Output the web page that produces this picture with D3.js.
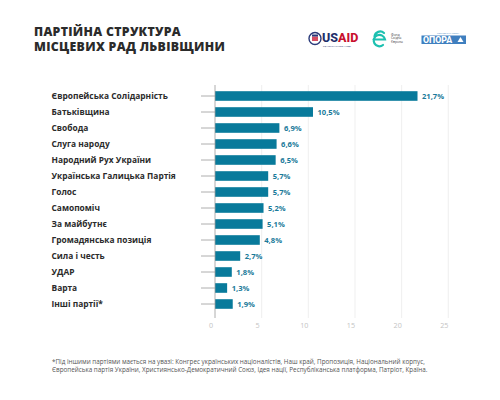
<!DOCTYPE html>
<html>
<head>
<meta charset="utf-8">
<script src="https://cdn.jsdelivr.net/npm/d3@7"></script>
<style>
    body { margin: 0; background: #fff; }
    svg { display: block; font-family: "Open Sans", "DejaVu Sans", sans-serif; }
</style>
</head>
<body>
<div id="chart"></div>
<script>
    "use strict";
    var parties = ["Європейська Солідарність", "Батьківщина", "Свобода", "Слуга народу",
            "Народний Рух України", "Українська Галицька Партія", "Голос", "Самопоміч",
            "За майбутнє", "Громадянська позиція", "Сила і честь", "УДАР", "Варта", "Інші партії*"],
        shares = [21.7, 10.5, 6.9, 6.6, 6.5, 5.7, 5.7, 5.2, 5.1, 4.8, 2.7, 1.8, 1.3, 1.9],
        xTicks = [0, 5, 10, 15, 20, 25],
        titleLines = ["ПАРТІЙНА СТРУКТУРА", "МІСЦЕВИХ РАД ЛЬВІВЩИНИ"],
        footnote = ["*Під іншими партіями мається на увазі: Конгрес українських націоналістів, Наш край, Пропозиція, Національний корпус,",
            "Європейська партія України, Християнсько-Демократичний Союз, Ідея нації, Республіканська платформа, Патріот, Країна."];

    var W = 500, H = 400,
        barColor = "#087a9b",
        fmt = function (v) { return String(v.toFixed(1)).replace(".", ",") + "%"; };

    var svg = d3.select("#chart").append("svg").attr("width", W).attr("height", H);

    // title
    svg.append("g").selectAll("text").data(titleLines).enter().append("text")
        .attr("x", 34).attr("y", function (d, i) { return 35.5 + i * 15.5; })
        .attr("font-size", 12.3).attr("font-weight", 800).attr("fill", "#2b2b2b")
        .attr("letter-spacing", 0.3)
        .text(function (d) { return d; });

    // logos (simplified)
    var logos = svg.append("g");
    logos.append("circle").attr("cx", 315).attr("cy", 38.5).attr("r", 6)
        .attr("fill", "#fff").attr("stroke", "#2a3a7a").attr("stroke-width", 1.4);
    logos.append("rect").attr("x", 312).attr("y", 36.5).attr("width", 6).attr("height", 4.5)
        .attr("fill", "#c8102e").attr("opacity", 0.75);
    logos.append("rect").attr("x", 312).attr("y", 34.5).attr("width", 6).attr("height", 2)
        .attr("fill", "#2a3a7a");
    logos.append("text").attr("x", 322).attr("y", 42).attr("font-size", 12.5).attr("font-weight", 800)
        .attr("font-family", "Roboto, sans-serif")
        .html('<tspan fill="#1f2f6b">US</tspan><tspan fill="#c8102e">AID</tspan>');
    logos.append("text").attr("x", 323).attr("y", 46.5).attr("font-size", 1.8).attr("fill", "#1f2f6b")
        .text("ВІД АМЕРИКАНСЬКОГО НАРОДУ");
    logos.append("path")
        .attr("d", "M373.5,39.5 L385,39.5 A5.7,5.7 0 1 0 383,45 M374.5,36.5 A5.7,5.7 0 0 1 384,33")
        .attr("fill", "none").attr("stroke", "#1cc0b0").attr("stroke-width", 2.2).attr("stroke-linecap", "round");
    logos.append("g").selectAll("text").data(["Фонд", "Східна", "Європа"]).enter().append("text")
        .attr("x", 391).attr("y", function (d, i) { return 35.5 + i * 3.8; })
        .attr("font-size", 3.3).attr("fill", "#3a3a3a").text(function (d) { return d; });
    logos.append("rect").attr("x", 421.5).attr("y", 35.5).attr("width", 44.5).attr("height", 8.5)
        .attr("fill", "#3f7fbf");
    logos.append("text").attr("x", 423).attr("y", 42.8).attr("font-size", 8.8).attr("font-weight", 800)
        .attr("fill", "#fff").attr("font-family", "Roboto, sans-serif").text("ОПОРА");
    logos.append("path").attr("d", "M457.5,42 L460.5,37 L463.5,42 Z").attr("fill", "#fff");
    logos.append("text").attr("x", 437).attr("y", 34).attr("font-size", 1.8).attr("fill", "#3f7fbf")
        .text("ГРОМАДЯНСЬКА МЕРЕЖА");

    // scales
    var x = d3.scaleLinear().domain([0, 25]).range([215, 448.3]),
        y = d3.scaleBand().domain(parties).range([88, 312]).paddingInner(0.4).paddingOuter(0.2);

    // grid
    var grid = svg.append("g");
    grid.selectAll("line").data(xTicks.slice(1)).enter().append("line")
        .attr("x1", function (d) { return x(d); }).attr("x2", function (d) { return x(d); })
        .attr("y1", 85).attr("y2", 318)
        .attr("stroke", "#e8e8e8").attr("stroke-width", 0.7);

    // x axis tick labels
    svg.append("g").selectAll("text").data(xTicks).enter().append("text")
        .attr("x", function (d) { return x(d) - 4; }).attr("y", 328)
        .attr("text-anchor", "middle").attr("font-size", 7.2).attr("fill", "#c4c4c4")
        .text(function (d) { return d; });

    // y axis via d3.axisLeft
    var yAxis = svg.append("g").attr("transform", "translate(215,0)")
        .call(d3.axisLeft(y).tickSize(14).tickFormat(""));
    yAxis.select(".domain").remove();
    yAxis.selectAll(".tick line").attr("stroke", "#9a9a9a").attr("stroke-width", 0.8);

    svg.append("g").selectAll("text").data(parties).enter().append("text")
        .attr("x", 51.5).attr("y", function (d) { return y(d) + y.bandwidth() / 2 + 3; })
        .attr("font-size", 8.4).attr("font-weight", 700).attr("fill", "#2b2b2b")
        .text(function (d) { return d; });

    // bars
    svg.append("g").selectAll("rect").data(parties).enter().append("rect")
        .attr("x", x(0)).attr("y", function (d) { return y(d); })
        .attr("width", function (d, i) { return x(shares[i]) - x(0); })
        .attr("height", y.bandwidth())
        .attr("fill", barColor);

    svg.append("g").selectAll("text").data(parties).enter().append("text")
        .attr("x", function (d, i) { return x(shares[i]) + 4.5; })
        .attr("y", function (d) { return y(d) + y.bandwidth() / 2 + 2.7; })
        .attr("font-size", 7.6).attr("font-weight", 700).attr("fill", "#1a7a9a")
        .text(function (d, i) { return fmt(shares[i]); });

    // zero line
    svg.append("line").attr("x1", x(0)).attr("x2", x(0)).attr("y1", 85).attr("y2", 318)
        .attr("stroke", "#9a9a9a").attr("stroke-width", 0.8);

    // footnote
    svg.append("g").selectAll("text").data(footnote).enter().append("text")
        .attr("x", 52).attr("y", function (d, i) { return 364 + i * 7.9; })
        .attr("font-size", 6.3).attr("fill", "#555")
        .text(function (d) { return d; });
</script>
</body>
</html>
